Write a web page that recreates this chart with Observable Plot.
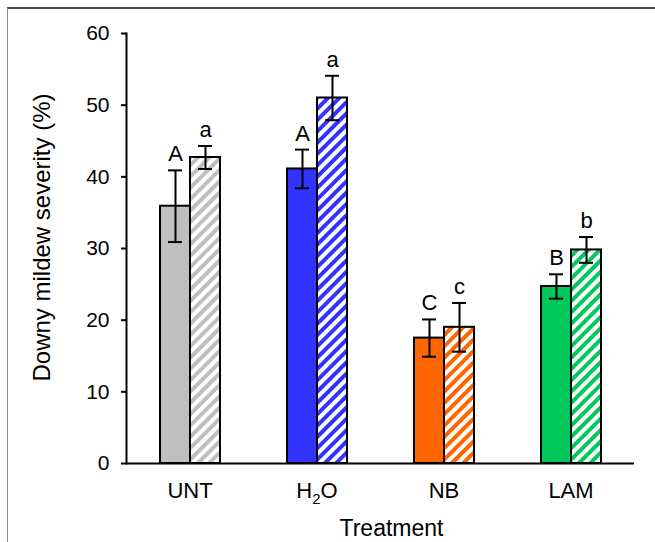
<!DOCTYPE html>
<html><head><meta charset="utf-8">
<script src="https://cdn.jsdelivr.net/npm/d3@7"></script>
<script src="https://cdn.jsdelivr.net/npm/@observablehq/plot@0.6"></script>
<style>
body{margin:0;background:#fff;}
#wrap{position:relative;width:655px;height:542px;overflow:hidden;}
#frame{position:absolute;left:7px;top:7px;right:-5px;bottom:-5px;border-top:2px solid #4a4a4a;border-left:1.5px solid #8a8a8a;}
#chart{position:absolute;left:0;top:0;}
</style></head><body>
<div id="wrap"><div id="frame"></div><div id="chart"></div></div>
<svg width="0" height="0" style="position:absolute"><defs id="defs"></defs></svg>
<script>
const treatments = ["UNT", "H2O", "NB", "LAM"];
const solidMeans = [35.9, 41.1, 17.5, 24.7];
const solidErr = [5.0, 2.7, 2.6, 1.7];
const hatchMeans = [42.7, 51.0, 19.0, 29.8];
const hatchErr = [1.6, 3.1, 3.4, 1.8];
const solidLetters = ["A", "A", "C", "B"];
const hatchLetters = ["a", "a", "c", "b"];
const colors = ["#bfbfbf", "#3333ff", "#ff6600", "#00c85a"];
const yTicks = [0, 10, 20, 30, 40, 50, 60];

// hatch patterns
const defs = d3.select("#defs");
colors.forEach((c, i) => {
  const p = defs.append("pattern").attr("id", "hatch-" + i)
    .attr("patternUnits", "userSpaceOnUse").attr("width", 8).attr("height", 8)
    .attr("patternTransform", "rotate(45)");
  p.append("rect").attr("width", 8).attr("height", 8).attr("fill", "white");
  p.append("rect").attr("width", 4).attr("height", 8).attr("fill", c);
});

const rows = [];
treatments.forEach((t, i) => {
  rows.push({t, k: "solid", mean: solidMeans[i], err: solidErr[i], letter: solidLetters[i], fill: colors[i]});
  rows.push({t, k: "hatched", mean: hatchMeans[i], err: hatchErr[i], letter: hatchLetters[i], fill: `url(#hatch-${i})`});
});

const font = "'Liberation Sans', Arial, sans-serif";
const plot = Plot.plot({
  width: 655, height: 542,
  marginLeft: 124, marginRight: 20, marginTop: 33, marginBottom: 79,
  style: {fontFamily: font, fontSize: "21px", color: "black", background: "transparent", overflow: "visible"},
  fx: {domain: treatments, padding: 0},
  x: {domain: ["solid", "hatched"], paddingInner: 0, paddingOuter: 1.09},
  y: {domain: [0, 60]},
  color: {type: "identity"},
  marks: [
    Plot.barY(rows, {fx: "t", x: "k", y: "mean", fill: "fill", stroke: "black", strokeWidth: 2}),
    Plot.ruleX(rows, {fx: "t", x: "k", y1: d => d.mean - d.err, y2: d => d.mean + d.err, stroke: "black", strokeWidth: 2}),
    Plot.tickY(rows, {fx: "t", x: "k", y: d => d.mean - d.err, stroke: "black", strokeWidth: 2, inset: 8}),
    Plot.tickY(rows, {fx: "t", x: "k", y: d => d.mean + d.err, stroke: "black", strokeWidth: 2, inset: 8}),
    Plot.text(rows, {fx: "t", x: "k", y: d => d.mean + d.err, text: "letter", lineAnchor: "bottom", dy: -9, fontSize: 22, fill: "black"}),
    Plot.ruleY([0], {stroke: "black", strokeWidth: 2}),
    Plot.frame({anchor: "left", facetAnchor: "left", stroke: "black", strokeWidth: 2}),
    Plot.axisY({ticks: yTicks, tickSize: 5, tickPadding: 12, strokeWidth: 2, fontSize: 21,
      label: "Downy mildew severity (%)", labelAnchor: "center", labelArrow: "none", labelOffset: 94}),
    Plot.axisX({ticks: [], label: null}),
    Plot.axisFx({anchor: "bottom", tickSize: 0, tickPadding: 19, fontSize: 22,
      label: "Treatment", labelAnchor: "center", labelArrow: "none", labelOffset: 72})
  ]
});
document.getElementById("chart").appendChild(plot);

const svg = d3.select(plot);
// subscript for H2O
svg.selectAll("text").filter(function() { return this.textContent === "H2O"; })
  .each(function() {
    const el = d3.select(this);
    el.text("");
    el.append("tspan").text("H");
    el.append("tspan").attr("dy", 6).attr("font-size", 15).text("2");
    el.append("tspan").attr("dy", -6).text("O");
  });
// axis titles: size and slight offset as in the reference
svg.selectAll("text").filter(function() { return this.textContent === "Treatment"; })
  .attr("font-size", 23).attr("dx", 11);
svg.selectAll("text").filter(function() { return this.textContent === "Downy mildew severity (%)"; })
  .attr("font-size", 24).attr("dx", 11);
</script>
</body></html>
